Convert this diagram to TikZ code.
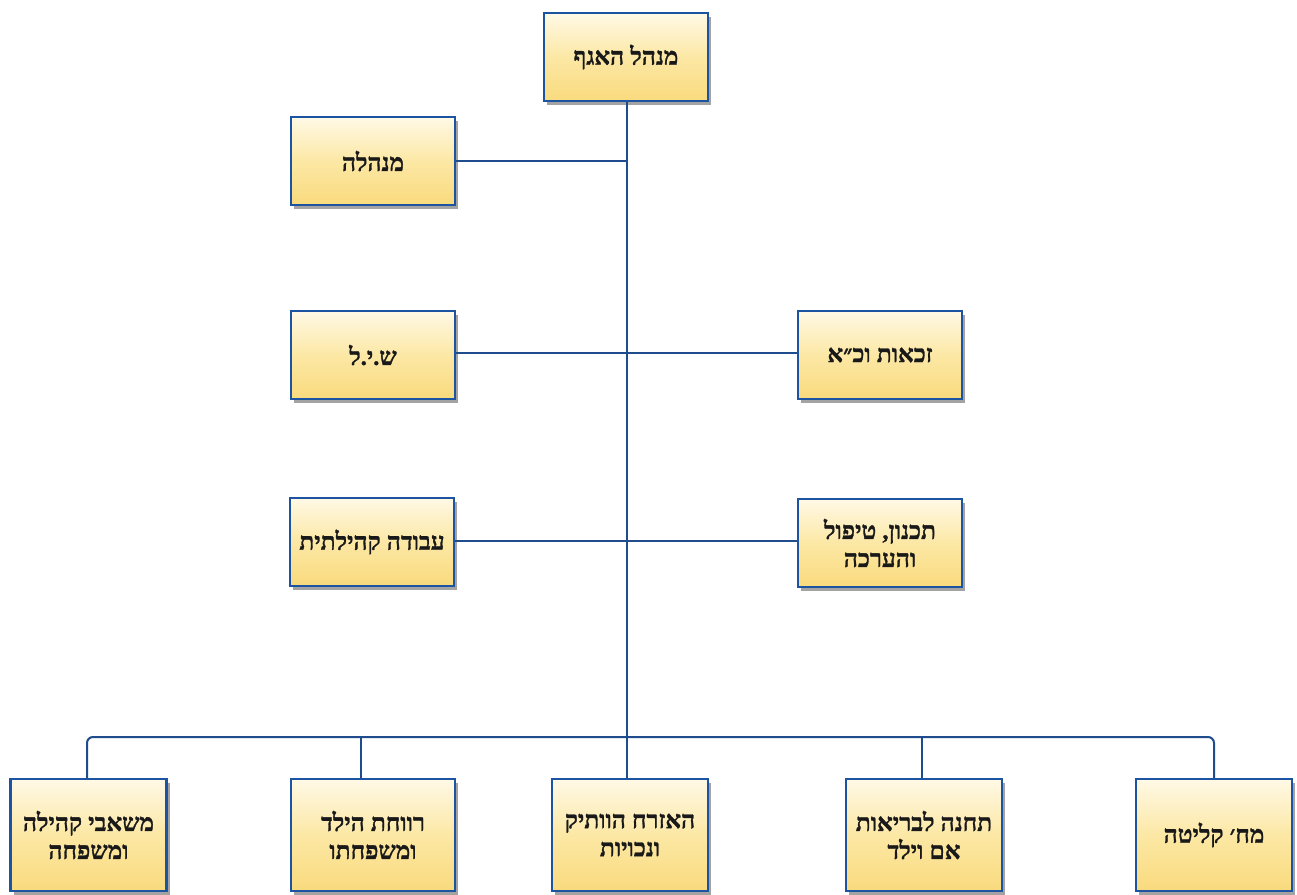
\documentclass[tikz,border=0pt]{standalone}
\usepackage{fontspec}
\setmainfont{Liberation Serif}
\newfontfamily\hebfont[Script=Hebrew, FakeBold=1.2]{Liberation Serif}
\TeXXeTstate=1
\usetikzlibrary{shadows}
\definecolor{boxedge}{RGB}{28,84,162}
\definecolor{linecol}{RGB}{30,76,140}
\definecolor{topcream}{RGB}{255,249,230}
\definecolor{midgold}{RGB}{252,232,165}
\definecolor{botgold}{RGB}{249,218,125}
\newcommand{\rl}[1]{\beginR #1\endR}
\tikzset{
  orgbox/.style={draw=boxedge, line width=2.4pt, top color=topcream, bottom color=botgold, middle color=midgold,
    minimum width=164pt, minimum height=88pt, inner sep=0pt, align=center,
    font=\hebfont\bfseries\fontsize{24.5}{28}\selectfont, text=black!90,
    drop shadow={shadow xshift=3pt, shadow yshift=-4pt, fill=black!60, opacity=0.6}},
  narrowbox/.style={orgbox, minimum width=156pt, minimum height=112pt},
  conn/.style={draw=linecol, line width=2pt}
}
\begin{document}
\begin{tikzpicture}[x=1pt,y=-1pt]
\useasboundingbox (0,0) rectangle (1297,894);
\fill[white] (0,0) rectangle (1297,894);
\coordinate (bus) at (627,737);
% boxes
\node[orgbox] (top) at (626,57) {\rl{מנהל האגף}};
\node[orgbox] (mgmt) at (373,161) {\rl{מנהלה}};
\node[orgbox] (shil) at (373,355) {\rl{ש.י.ל}};
\node[orgbox] (zch) at (880,355) {\rl{זכאות וכ״א}};
\node[orgbox] (avoda) at (372,542) {\rl{עבודה קהילתית}};
\node[orgbox] (tich) at (880,543) {\rl{תכנון, טיפול}\\\rl{והערכה}};
\node[narrowbox] (b1) at (88.5,835) {\rl{משאבי קהילה}\\\rl{ומשפחה}};
\node[orgbox, minimum height=112pt] (b2) at (373,835) {\rl{רווחת הילד}\\\rl{ומשפחתו}};
\node[narrowbox] (b3) at (630,835) {\rl{האזרח הוותיק}\\\rl{ונכויות}};
\node[narrowbox] (b4) at (924,835) {\rl{תחנה לבריאות}\\\rl{אם וילד}};
\node[narrowbox] (b5) at (1214,835) {\rl{מח׳ קליטה}};
% trunk
\draw[conn] ([xshift=1pt]top.south) -- ([xshift=1pt]top.south |- bus);
\draw[conn] (mgmt.east) -- (mgmt.east -| bus);
\draw[conn] ([yshift=2pt]shil.east) -- ([yshift=2pt]shil.east -| zch.west);
\draw[conn] ([yshift=1pt]avoda.east) -- ([yshift=1pt]avoda.east -| tich.west);
% bus with drops
\draw[conn, rounded corners=6pt] ([xshift=-1.5pt]b1.north) -- ([xshift=-1.5pt]b1.north |- bus) -- (b5.north |- bus) -- (b5.north);
\draw[conn] ([xshift=-12pt]b2.north) -- ([xshift=-12pt]b2.north |- bus);
\draw[conn] ([xshift=-3pt]b3.north) -- ([xshift=-3pt]b3.north |- bus);
\draw[conn] ([xshift=-2pt]b4.north) -- ([xshift=-2pt]b4.north |- bus);
\end{tikzpicture}
\end{document}
